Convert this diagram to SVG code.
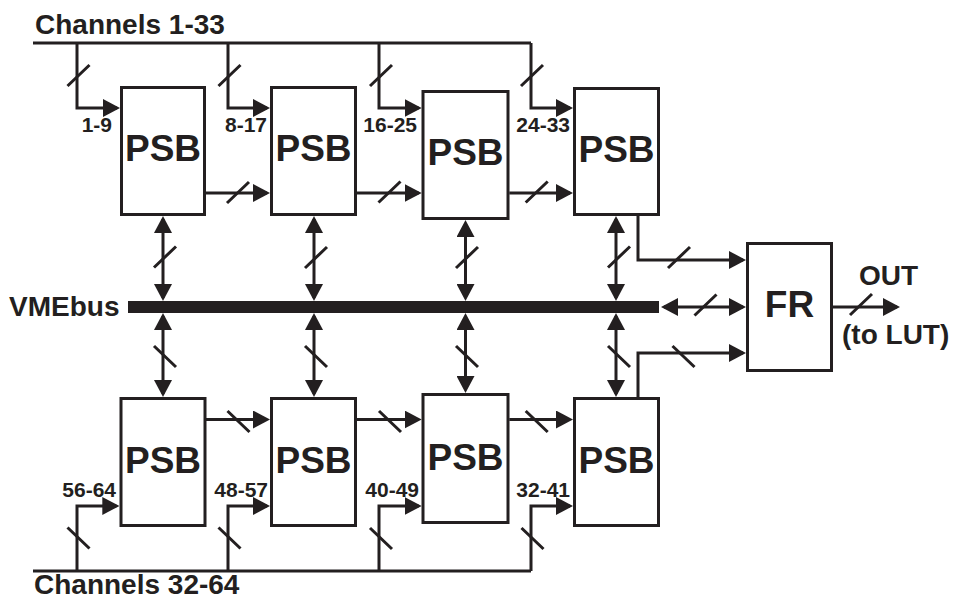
<svg xmlns="http://www.w3.org/2000/svg" width="953" height="601" viewBox="0 0 953 601">
<style>
.box{fill:#fff;stroke:#231f20;stroke-width:3}
.ln{fill:none;stroke:#231f20;stroke-width:3}
.t{font-family:"Liberation Sans",Arial,Helvetica,sans-serif;font-weight:bold;fill:#231f20}
.big{font-size:37px;text-anchor:middle}
.lab{font-size:21px;text-anchor:end}
.h{font-size:28px}
</style>
<defs>
<marker id="ah" viewBox="0 0 17 18" refX="14" refY="9" markerWidth="17" markerHeight="18" markerUnits="userSpaceOnUse" orient="auto-start-reverse">
<path d="M0,0 L17,9 L0,18 z" fill="#231f20"/>
</marker>
</defs>
<rect id="bus" x="128" y="301" width="531" height="12" fill="#231f20"/>
<g id="connectors">
<path class="ln" d="M33,43 H531"/>
<path class="ln" d="M77,43 V108 H117" marker-end="url(#ah)"/>
<path class="ln" d="M228,43 V108 H267" marker-end="url(#ah)"/>
<path class="ln" d="M379,43 V108 H418.7" marker-end="url(#ah)"/>
<path class="ln" d="M531,43 V108 H570" marker-end="url(#ah)"/>
<path class="ln" d="M33,571 H531"/>
<path class="ln" d="M77,571 V506 H116.3" marker-end="url(#ah)"/>
<path class="ln" d="M228,571 V506 H267" marker-end="url(#ah)"/>
<path class="ln" d="M379,571 V506 H418.7" marker-end="url(#ah)"/>
<path class="ln" d="M531,571 V506 H570" marker-end="url(#ah)"/>
<path class="ln" d="M206,193 H267" marker-end="url(#ah)"/>
<path class="ln" d="M357,193 H418.7" marker-end="url(#ah)"/>
<path class="ln" d="M509.3,193 H570" marker-end="url(#ah)"/>
<path class="ln" d="M206,419.5 H267" marker-end="url(#ah)"/>
<path class="ln" d="M357,419.5 H418.7" marker-end="url(#ah)"/>
<path class="ln" d="M509.3,419.5 H570" marker-end="url(#ah)"/>
<path class="ln" d="M163,219 V298" marker-start="url(#ah)" marker-end="url(#ah)"/>
<path class="ln" d="M314,219 V298" marker-start="url(#ah)" marker-end="url(#ah)"/>
<path class="ln" d="M465.5,223 V298" marker-start="url(#ah)" marker-end="url(#ah)"/>
<path class="ln" d="M616,219 V298" marker-start="url(#ah)" marker-end="url(#ah)"/>
<path class="ln" d="M163,316 V394" marker-start="url(#ah)" marker-end="url(#ah)"/>
<path class="ln" d="M314,316 V394" marker-start="url(#ah)" marker-end="url(#ah)"/>
<path class="ln" d="M465.5,316 V390" marker-start="url(#ah)" marker-end="url(#ah)"/>
<path class="ln" d="M616,316 V394" marker-start="url(#ah)" marker-end="url(#ah)"/>
<path class="ln" d="M638,216 V260 H743" marker-end="url(#ah)"/>
<path class="ln" d="M638,397 V353 H743" marker-end="url(#ah)"/>
<path class="ln" d="M664,307 H743" marker-start="url(#ah)" marker-end="url(#ah)"/>
<path class="ln" d="M833,307 H897" marker-end="url(#ah)"/>
<g id="slashes">
<path class="ln" d="M67.5,86 l22,-21 M218.5,86 l22,-21 M370,86 l22,-21 M521,86 l22,-21"/>
<path class="ln" d="M227,203 l22,-21 M378.5,202.5 l22,-21 M525.7,202.5 l22,-21"/>
<path class="ln" d="M154,267.5 l22,-21 M305,268 l22,-21 M456,268 l22,-21 M608,267.5 l22,-21"/>
<path class="ln" d="M668,268 l22,-21 M694.5,315.5 l22,-21 M850,315 l22,-21"/>
<path class="ln" d="M154,346 l22,21 M305,346 l22,21 M456,346 l22,21 M608,346 l22,21"/>
<path class="ln" d="M672.5,346 l22,21"/>
<path class="ln" d="M227.5,411 l22,21 M379,411 l22,21 M525.7,411 l22,21"/>
<path class="ln" d="M67.5,527.5 l22,21 M218.5,527.5 l22,21 M370,528 l22,21 M521.5,528 l22,21"/>
</g>
</g>
<g id="psb-u1"><rect class="box" x="121.5" y="87.5" width="83" height="127"/><text class="t big" x="163" y="161">PSB</text></g>
<g id="psb-u2"><rect class="box" x="271.5" y="87.5" width="84" height="127"/><text class="t big" x="313.5" y="161">PSB</text></g>
<g id="psb-u3"><rect class="box" x="423" y="91.5" width="85" height="127"/><text class="t big" x="465.5" y="164.5">PSB</text></g>
<g id="psb-u4"><rect class="box" x="574.5" y="88.5" width="84" height="126"/><text class="t big" x="616.5" y="162">PSB</text></g>
<g id="psb-l1"><rect class="box" x="121" y="398.5" width="84" height="127"/><text class="t big" x="163" y="473">PSB</text></g>
<g id="psb-l2"><rect class="box" x="271.5" y="398.5" width="84" height="127"/><text class="t big" x="313.5" y="473">PSB</text></g>
<g id="psb-l3"><rect class="box" x="423" y="394.5" width="85" height="128"/><text class="t big" x="465.5" y="469.5">PSB</text></g>
<g id="psb-l4"><rect class="box" x="574.5" y="398.5" width="84" height="127"/><text class="t big" x="616.5" y="473">PSB</text></g>
<g id="fr"><rect class="box" x="747.5" y="243.5" width="84" height="127"/><text class="t big" x="789.5" y="317">FR</text></g>
<g id="labels">
<text class="t h" x="35" y="34">Channels 1-33</text>
<text class="t h" x="34" y="594">Channels 32-64</text>
<text class="t h" x="9" y="316">VMEbus</text>
<text class="t h" x="859" y="285">OUT</text>
<text class="t h" x="842" y="344">(to LUT)</text>
<text class="t lab" x="112" y="132">1-9</text>
<text class="t lab" x="267" y="132">8-17</text>
<text class="t lab" x="417" y="132">16-25</text>
<text class="t lab" x="570" y="132">24-33</text>
<text class="t lab" x="116" y="497">56-64</text>
<text class="t lab" x="268" y="497">48-57</text>
<text class="t lab" x="419" y="497">40-49</text>
<text class="t lab" x="570" y="497">32-41</text>
</g>
</svg>
